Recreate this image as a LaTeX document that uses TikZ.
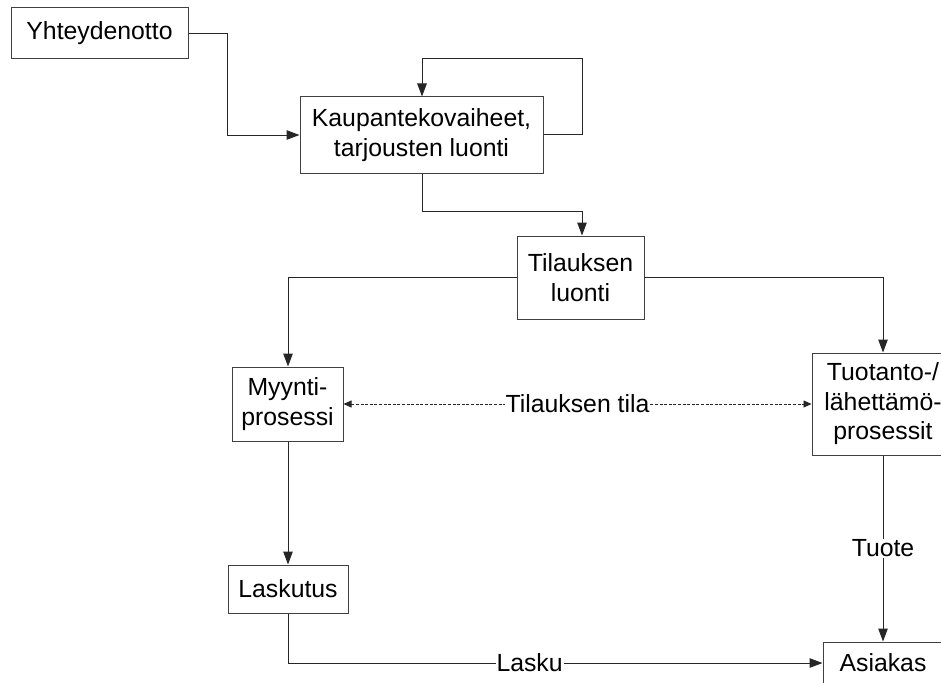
\documentclass[tikz,border=0pt]{standalone}
\usepackage{fontspec}
\setmainfont{Liberation Sans}
\usetikzlibrary{arrows.meta}
\begin{document}
\begin{tikzpicture}[x=1pt,y=-1pt,
  font=\fontsize{24.8}{29.5}\selectfont,
  box/.style={draw=black!75,line width=1pt,fill=white,inner sep=0pt,align=center},
  flow/.style={draw=black!85,line width=1pt,-{Triangle[length=13pt,width=9.5pt]}},
  status/.style={draw=black!85,line width=0.8pt,dash pattern=on 3pt off 1.6pt,
    {Triangle[length=8pt,width=7pt]}-{Triangle[length=8pt,width=7pt]}},
  lbl/.style={fill=white,inner sep=1pt}]
\useasboundingbox (0,0) rectangle (941,682);
\clip (0,0) rectangle (941,682);

% process boxes
\node[box,minimum width=177pt,minimum height=51pt] (yht) at (99.5,33.5) {Yhteydenotto};
\node[box,minimum width=243pt,minimum height=76pt] (kaup) at (421.5,135) {Kaupantekovaiheet,\\tarjousten luonti};
\node[box,minimum width=127pt,minimum height=83pt] (til) at (580.5,277.5) {Tilauksen\\luonti};
\node[box,minimum width=111pt,minimum height=74pt] (myy) at (287.5,404) {Myynti-\\prosessi};
\node[box,minimum width=142pt,minimum height=102pt] (tuo) at (883,404) {Tuotanto-/\\lähettämö-\\prosessit};
\node[box,minimum width=120pt,minimum height=48pt] (lask) at (288,589) {Laskutus};
\node[box,minimum width=120pt,minimum height=42pt] (asi) at (883,663) {Asiakas};

% bend points of the connectors
\coordinate (loopA) at (582,134);
\coordinate (loopB) at (582,59);
\coordinate (loopC) at (422,59);

% connectors
\draw[flow] (yht.east) -- (227,33.5) |- (kaup.west);
\draw[flow] (kaup.east |- loopA) -- (loopA) -- (loopB) -- (loopC) -- (kaup.north -| loopC);
\draw[flow] (kaup.south -| loopC) -- (422,211) -| (til.north -| 582,0);
\draw[flow] (til.west) -| (myy.north -| 288,0);
\draw[flow] (til.east) -| (tuo.north);
\draw[status] (myy.east) -- node[lbl]{Tilauksen tila} (tuo.west);
\draw[flow] (myy.south -| 288,0) -- (lask.north);
\draw[flow] (lask.south) |- node[lbl,pos=0.726]{Lasku} (asi.west);
\draw[flow] (tuo.south) -- node[lbl,pos=0.5]{Tuote} (asi.north);
\end{tikzpicture}
\end{document}
